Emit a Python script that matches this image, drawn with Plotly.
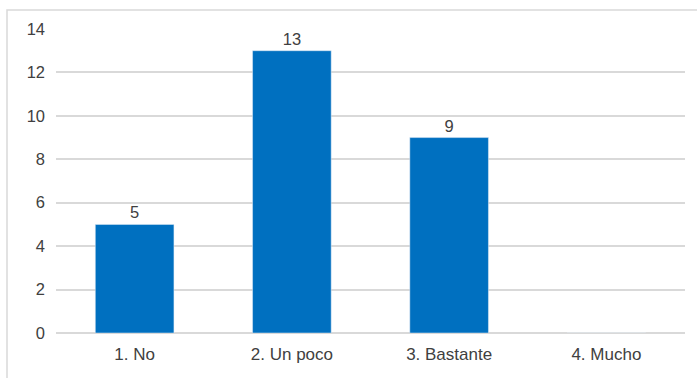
import plotly.graph_objects as go

categories = ["1. No", "2. Un poco", "3. Bastante", "4. Mucho"]
values = [5, 13, 9, 0]
y_ticks = [0, 2, 4, 6, 8, 10, 12, 14]

W, H = 697, 378
ml, mr, mt, mb = 56, 12, 29, 45
pw, ph = W - ml - mr, H - mt - mb

labels = [str(v) if v else "" for v in values]

fig = go.Figure(
    go.Bar(
        x=categories,
        y=values,
        text=labels,
        textposition="outside",
        cliponaxis=False,
        marker=dict(color="#0070C0"),
        textfont=dict(size=16.5, color="#404040", family="Liberation Sans, Arial, sans-serif"),
        hoverinfo="skip",
    )
)

fig.update_layout(
    width=W,
    height=H,
    margin=dict(l=ml, r=mr, t=mt, b=mb, pad=0),
    paper_bgcolor="white",
    plot_bgcolor="white",
    bargap=0.5,
    showlegend=False,
    font=dict(family="Liberation Sans, Arial, sans-serif", size=16.5, color="#404040"),
    xaxis=dict(
        showgrid=False,
        showline=False,
        zeroline=False,
        ticks="",
        tickfont=dict(size=17, color="#404040"),
        ticklabelstandoff=9,
    ),
    yaxis=dict(
        range=[0, 14],
        tickvals=y_ticks,
        showgrid=True,
        gridcolor="#D9D9D9",
        gridwidth=1.5,
        zeroline=True,
        zerolinecolor="#D9D9D9",
        zerolinewidth=1.5,
        showline=False,
        ticks="",
        tickfont=dict(size=16.5, color="#404040"),
        ticklabelstandoff=10,
    ),
    shapes=[
        dict(
            type="rect",
            xref="paper",
            yref="paper",
            x0=(7 - ml) / pw,
            x1=(W + 5 - ml) / pw,
            y0=-(H + 5 - (H - mb)) / ph,
            y1=1 + (mt - 10) / ph,
            line=dict(color="#D9D9D9", width=1.5),
            fillcolor="rgba(0,0,0,0)",
            layer="below",
        )
    ],
)

fig.write_html("out.html")
